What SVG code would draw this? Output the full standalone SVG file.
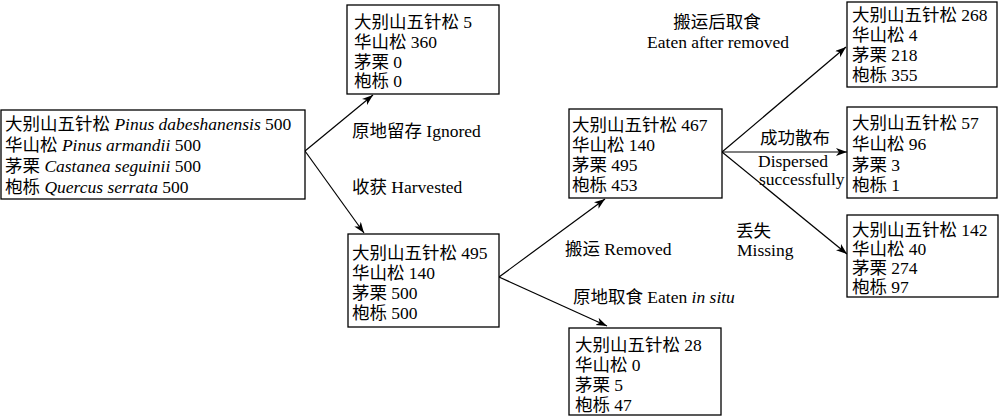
<svg xmlns="http://www.w3.org/2000/svg" width="1000" height="416" viewBox="0 0 1000 416">
<style>
text{font-family:"Liberation Serif","Noto Sans CJK SC",serif;font-size:17.5px;fill:#000}
.box{fill:#fff;stroke:#000;stroke-width:1.3}
.c{stroke:#000;stroke-width:1.2;fill:none;marker-end:url(#ah)}
.m{text-anchor:middle}
</style>
<defs>
<marker id="ah" markerUnits="userSpaceOnUse" markerWidth="12" markerHeight="9" refX="11" refY="4" orient="auto">
<path d="M0,0 L11,4 L0,8 L3,4 z" fill="#000"/>
</marker>
</defs>
<rect width="1000" height="416" fill="#fff"/>
<g id="connectors">
<line class="c" x1="305" y1="151" x2="373" y2="95"/>
<line class="c" x1="305" y1="151" x2="364" y2="233"/>
<line class="c" x1="499" y1="277" x2="605" y2="199"/>
<line class="c" x1="499" y1="277" x2="607" y2="326"/>
<line class="c" x1="722" y1="152" x2="846" y2="47"/>
<line class="c" x1="722" y1="152" x2="847" y2="152"/>
<line class="c" x1="722" y1="152" x2="847" y2="254"/>
</g>
<g id="labels">
<text x="352" y="137">原地留存 Ignored</text>
<text x="352" y="193">收获 Harvested</text>
<text x="565" y="255">搬运 Removed</text>
<text x="573" y="303">原地取食 Eaten <tspan font-style="italic">in situ</tspan></text>
<text class="m" x="717" y="28">搬运后取食</text>
<text class="m" x="718" y="48">Eaten after removed</text>
<text x="760" y="144">成功散布</text>
<text x="758" y="167">Dispersed</text>
<text x="759" y="185">successfully</text>
<text x="736" y="237">丢失</text>
<text x="737" y="256">Missing</text>
</g>
<g id="n-initial">
<rect class="box" x="1" y="110" width="304" height="89"/>
<text x="5" y="130">大别山五针松 <tspan font-style="italic">Pinus dabeshanensis</tspan> 500</text>
<text x="5" y="151">华山松 <tspan font-style="italic">Pinus armandii</tspan> 500</text>
<text x="5" y="172">茅栗 <tspan font-style="italic">Castanea seguinii</tspan> 500</text>
<text x="5" y="193">枹栎 <tspan font-style="italic">Quercus serrata</tspan> 500</text>
</g>
<g id="n-ignored">
<rect class="box" x="347" y="5" width="152" height="89"/>
<text x="354" y="28">大别山五针松 5</text>
<text x="354" y="48">华山松 360</text>
<text x="354" y="68">茅栗 0</text>
<text x="354" y="87">枹栎 0</text>
</g>
<g id="n-harvested">
<rect class="box" x="348" y="234" width="151" height="93"/>
<text x="352" y="259">大别山五针松 495</text>
<text x="352" y="279">华山松 140</text>
<text x="352" y="299">茅栗 500</text>
<text x="352" y="319">枹栎 500</text>
</g>
<g id="n-removed">
<rect class="box" x="569" y="109" width="153" height="89"/>
<text x="572" y="131">大别山五针松 467</text>
<text x="572" y="151">华山松 140</text>
<text x="572" y="171">茅栗 495</text>
<text x="572" y="191">枹栎 453</text>
</g>
<g id="n-eaten-in-situ">
<rect class="box" x="569" y="328" width="152" height="87"/>
<text x="575" y="351">大别山五针松 28</text>
<text x="575" y="371">华山松 0</text>
<text x="575" y="391">茅栗 5</text>
<text x="575" y="411">枹栎 47</text>
</g>
<g id="n-eaten-after">
<rect class="box" x="847" y="2" width="150" height="85"/>
<text x="852" y="21">大别山五针松 268</text>
<text x="852" y="41">华山松 4</text>
<text x="852" y="61">茅栗 218</text>
<text x="852" y="81">枹栎 355</text>
</g>
<g id="n-dispersed">
<rect class="box" x="847" y="107" width="150" height="91"/>
<text x="852" y="129">大别山五针松 57</text>
<text x="852" y="150">华山松 96</text>
<text x="852" y="171">茅栗 3</text>
<text x="852" y="191">枹栎 1</text>
</g>
<g id="n-missing">
<rect class="box" x="847" y="215" width="151" height="82"/>
<text x="852" y="236">大别山五针松 142</text>
<text x="852" y="255">华山松 40</text>
<text x="852" y="274">茅栗 274</text>
<text x="852" y="293">枹栎 97</text>
</g>
</svg>
